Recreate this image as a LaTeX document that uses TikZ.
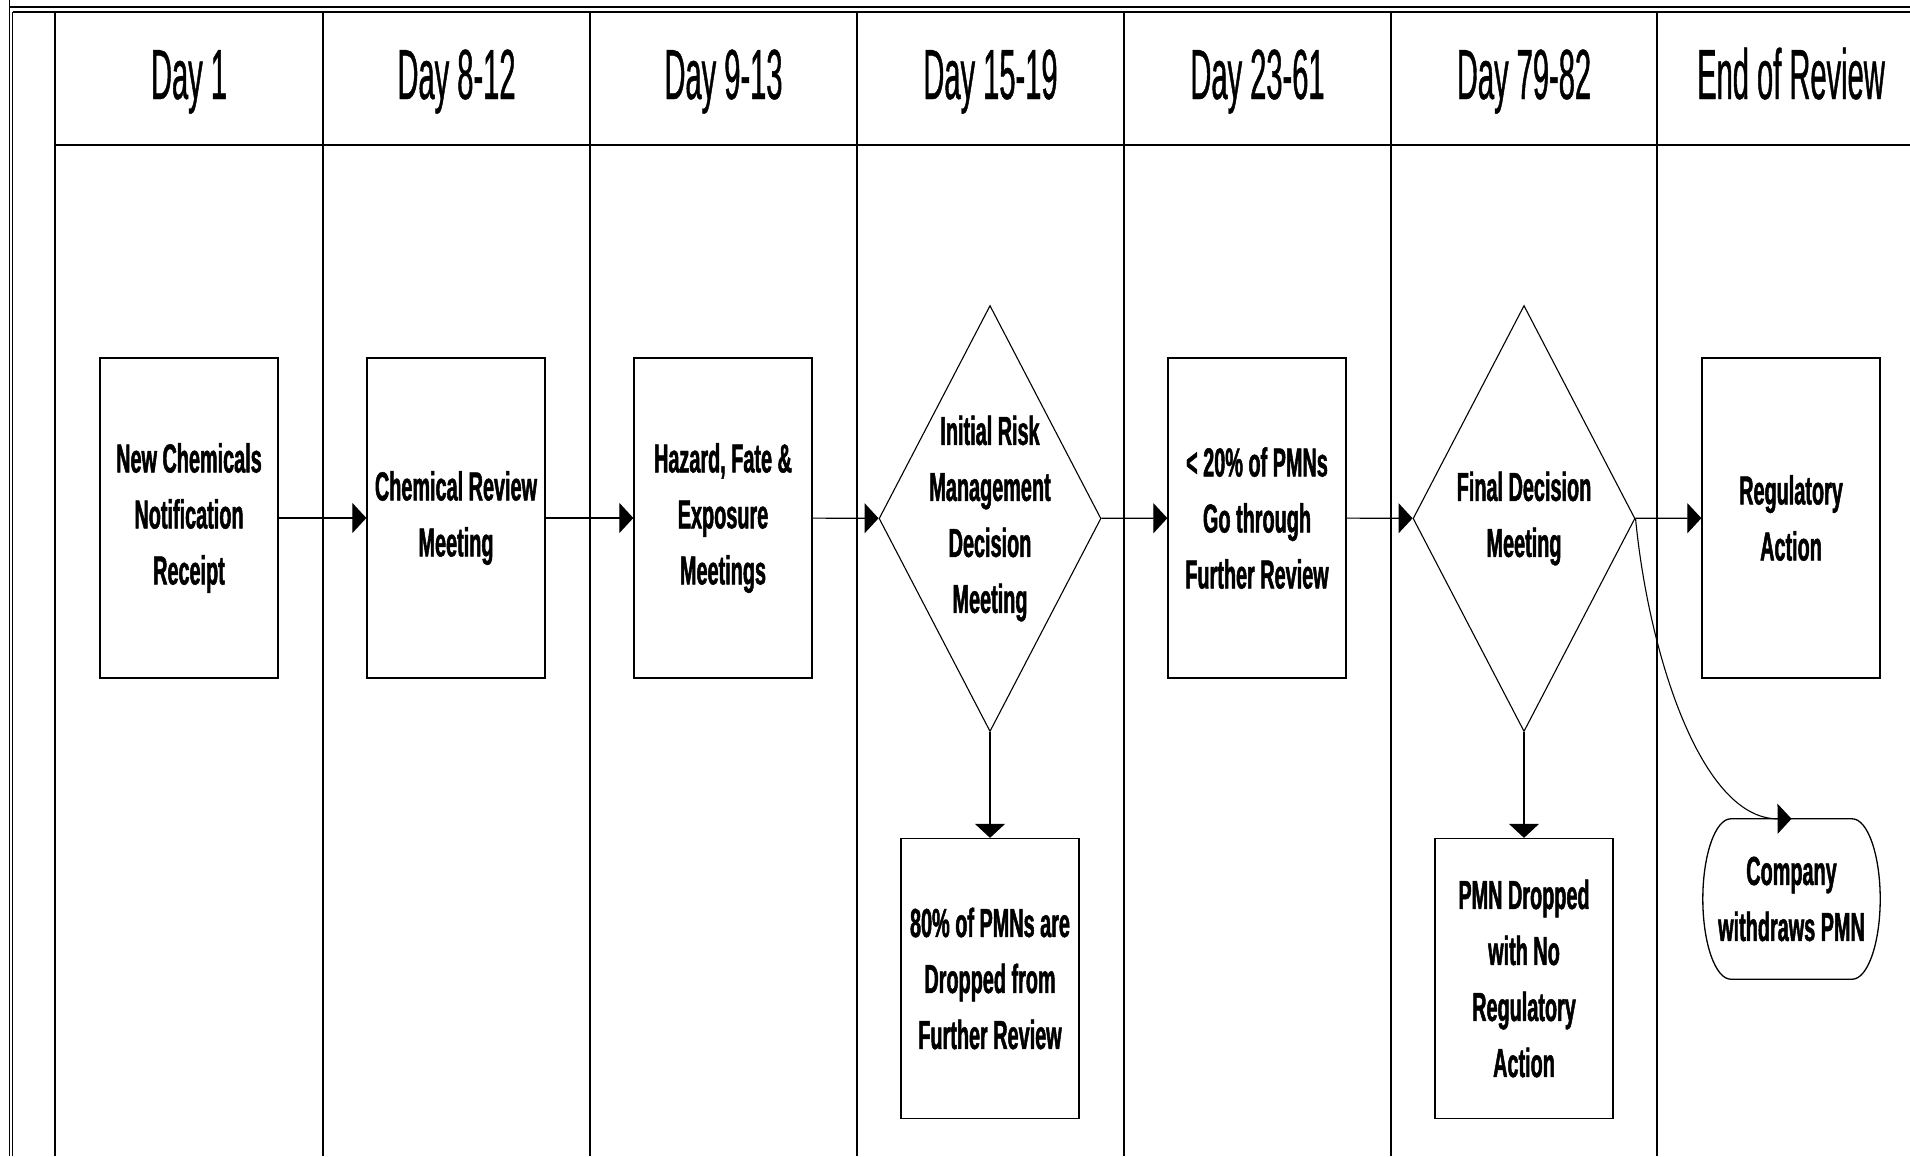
\documentclass[tikz,border=0pt]{standalone}
\usepackage{fontspec}
\setmainfont{Liberation Sans}
\newfontfamily\boxfont{Liberation Sans}[FakeStretch=0.49,FakeBold=1.2]
\newfontfamily\hdrfont{Liberation Sans}[FakeStretch=0.41,FakeBold=0.6]
\usetikzlibrary{arrows.meta,shapes.geometric,calc}
\newcommand\boxtxt{\boxfont\bfseries\fontsize{40.5pt}{56pt}\selectfont}
\newcommand\hdrtxt{\hdrfont\fontsize{71pt}{80pt}\selectfont}
\tikzset{
  lane/.style={line width=1.8pt, black},
  frame/.style={line width=1.2pt, black},
  stepbox/.style={draw, line width=1.3pt, minimum width=178pt, minimum height=320pt,
    inner sep=0pt, align=center, font=\boxtxt},
  endbox/.style={draw, line width=1.3pt, minimum width=178pt, minimum height=280pt,
    inner sep=0pt, align=center, font=\boxtxt},
  decision/.style={draw, diamond, aspect=0.521, line width=1.1pt, minimum width=222pt, minimum height=426pt,
    inner sep=-6pt, align=center, font=\boxtxt},
  hdr/.style={anchor=base, inner sep=0pt, font=\hdrtxt},
  conn/.style={line width=1.1pt, -{Triangle[length=14pt,width=30pt]}},
}
\begin{document}
\begin{tikzpicture}[x=1pt,y=-1pt]
\useasboundingbox (0,0) rectangle (1910,1156);
% frame and lanes
\draw[frame] (9.5,0) -- (9.5,1156);
\draw[frame] (9.5,7) -- (1910,7);
\draw[frame] (12.5,12) -- (1910,12);
\draw[frame] (12.5,12) -- (12.5,1156);
\draw[lane] (55,145) -- (1910,145);
\foreach \x in {55,323,590,857,1124,1391,1657}
  \draw[lane] (\x,12) -- (\x,1156);
% headers
\node[hdr] (h1) at (189,99) {Day 1};
\node[hdr] (h2) at (456.5,99) {Day 8-12};
\node[hdr] (h3) at (723.5,99) {Day 9-13};
\node[hdr] (h4) at (990.5,99) {Day 15-19};
\node[hdr] (h5) at (1257.5,99) {Day 23-61};
\node[hdr] (h6) at (1524,99) {Day 79-82};
\node[hdr] (h7) at (1791,99) {End of Review};
% nodes
\node[stepbox] (b1) at (189,518) {New Chemicals\\Notification\\Receipt};
\node[stepbox] (b2) at (456,518) {Chemical Review\\Meeting};
\node[stepbox] (b3) at (723,518) {Hazard, Fate \&\\Exposure\\Meetings};
\node[decision] (d1) at (990,518.5) {Initial Risk\\Management\\Decision\\Meeting};
\node[stepbox] (b4) at (1257,518) {< 20\% of PMNs\\Go through\\Further Review};
\node[decision] (d2) at (1524,518.5) {Final Decision\\Meeting};
\node[stepbox] (b5) at (1791,518) {Regulatory\\Action};
\node[endbox] (b6) at (990,978.5) {80\% of PMNs are\\Dropped from\\Further Review};
\node[endbox] (b7) at (1524,978.5) {PMN Dropped\\with No\\Regulatory\\Action};
\node[inner sep=0pt, minimum width=177pt, minimum height=160pt, align=center, font=\boxtxt]
  (cw) at (1791.5,899) {Company\\withdraws PMN};
\draw[line width=1.3pt]
  ($(cw.north west)+(28,0)$) -- ($(cw.north east)+(-28,0)$)
  .. controls ($(cw.north east)+(-12.5,0)$) and ($(cw.east)+(0,-44)$) .. (cw.east)
  .. controls ($(cw.east)+(0,44)$) and ($(cw.south east)+(-12.5,0)$) .. ($(cw.south east)+(-28,0)$)
  -- ($(cw.south west)+(28,0)$)
  .. controls ($(cw.south west)+(12.5,0)$) and ($(cw.west)+(0,44)$) .. (cw.west)
  .. controls ($(cw.west)+(0,-44)$) and ($(cw.north west)+(12.5,0)$) .. cycle;
% connectors
\draw[conn] (b1) -- (b2);
\draw[conn] (b2) -- (b3);
\draw[conn] (b3) -- (d1);
\draw[conn] (d1) -- (b4);
\draw[conn] (b4) -- (d2);
\draw[conn] (d2) -- (b5);
\draw[conn] (d1) -- (b6);
\draw[conn] (d2) -- (b7);
\draw[conn] (d2.east) .. controls (1648,650) and (1700,819) .. (cw.north);
\end{tikzpicture}
\end{document}
